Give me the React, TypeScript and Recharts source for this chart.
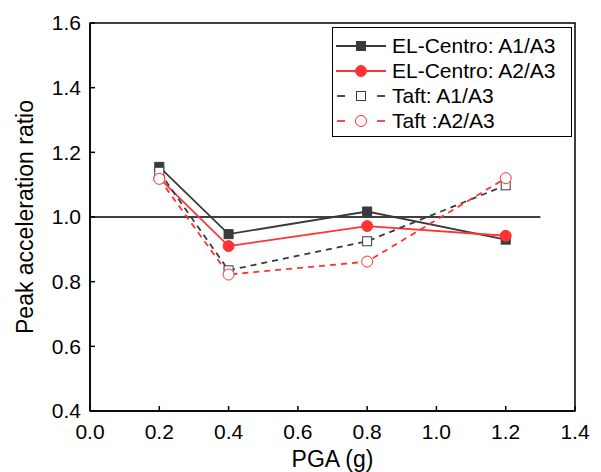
import React from "react";
import {
  LineChart,
  Line,
  XAxis,
  YAxis,
  ReferenceLine,
  ReferenceArea,
} from "recharts";

const pga = [0.2, 0.4, 0.8, 1.2];
const elA1 = [1.155, 0.947, 1.017, 0.93];
const elA2 = [1.12, 0.91, 0.972, 0.942];
const taftA1 = [1.14, 0.835, 0.925, 1.098];
const taftA2 = [1.118, 0.822, 0.862, 1.12];
const xTicks = [0, 0.2, 0.4, 0.6, 0.8, 1.0, 1.2, 1.4];
const yTicks = [0.4, 0.6, 0.8, 1.0, 1.2, 1.4, 1.6];

const DARK = "#3a3a3a";
const RED = "#ff3333";
const FONT = "'Liberation Sans', Arial, sans-serif";

const data = pga.map((x, i) => ({
  x,
  elA1: elA1[i],
  elA2: elA2[i],
  taftA1: taftA1[i],
  taftA2: taftA2[i],
}));

const squareDot = (color: string, filled: boolean) => (p: any) => (
  <rect
    key={`s-${color}-${filled}-${p.index}`}
    x={p.cx - 4.5}
    y={p.cy - 4.5}
    width={9}
    height={9}
    fill={filled ? color : "#fff"}
    stroke={color}
    strokeWidth={1}
  />
);

const circleDot = (color: string, filled: boolean) => (p: any) => (
  <circle
    key={`c-${color}-${filled}-${p.index}`}
    cx={p.cx}
    cy={p.cy}
    r={5.5}
    fill={filled ? color : "#fff"}
    stroke={color}
    strokeWidth={1}
  />
);

const legendItems = [
  { label: "EL-Centro: A1/A3", color: DARK, dashed: false, shape: "square", filled: true },
  { label: "EL-Centro: A2/A3", color: RED, dashed: false, shape: "circle", filled: true },
  { label: "Taft: A1/A3", color: DARK, dashed: true, shape: "square", filled: false },
  { label: "Taft :A2/A3", color: RED, dashed: true, shape: "circle", filled: false },
];

function LegendBox() {
  return (
    <div
      style={{
        position: "absolute",
        left: 332,
        top: 27,
        width: 238,
        height: 103,
        border: "1.5px solid #000",
        background: "#fff",
        padding: "5px 0 0 0",
        boxSizing: "content-box",
        fontFamily: FONT,
        fontSize: 21,
        color: "#000",
      }}
    >
      {legendItems.map((it) => (
        <div key={it.label} style={{ display: "flex", alignItems: "center", height: 25 }}>
          <svg width={54} height={20} style={{ marginLeft: 1, flex: "none" }}>
            {it.dashed ? (
              <>
                <line x1={3} x2={11} y1={10} y2={10} stroke={it.color} strokeWidth={1.8} />
                <line x1={43} x2={51} y1={10} y2={10} stroke={it.color} strokeWidth={1.8} />
              </>
            ) : (
              <line x1={2} x2={52} y1={10} y2={10} stroke={it.color} strokeWidth={1.8} />
            )}
            {it.shape === "square" ? (
              <rect
                x={22.5}
                y={5.5}
                width={9}
                height={9}
                fill={it.filled ? it.color : "#fff"}
                stroke={it.color}
              />
            ) : (
              <circle cx={27} cy={10} r={5.5} fill={it.filled ? it.color : "#fff"} stroke={it.color} />
            )}
          </svg>
          <span style={{ marginLeft: 4, whiteSpace: "nowrap" }}>{it.label}</span>
        </div>
      ))}
    </div>
  );
}

export default function App() {
  return (
    <div style={{ position: "absolute", left: 0, top: 0, width: 601, height: 472, background: "#fff" }}>
      <LineChart
        width={601}
        height={472}
        data={data}
        margin={{ top: 23, right: 26, bottom: 0, left: 40 }}
      >
        <XAxis
          dataKey="x"
          type="number"
          domain={[0, 1.4]}
          ticks={xTicks}
          tickFormatter={(v: number) => v.toFixed(1)}
          tickSize={-5}
          tickMargin={18}
          stroke="#000"
          strokeWidth={1.5}
          tick={{ fill: "#000", fontSize: 21, fontFamily: FONT }}
          height={61}
          label={{
            value: "PGA (g)",
            position: "insideBottom",
            offset: 5,
            fill: "#000",
            fontSize: 23,
            fontFamily: FONT,
          }}
        />
        <YAxis
          type="number"
          domain={[0.4, 1.6]}
          ticks={yTicks}
          tickFormatter={(v: number) => v.toFixed(1)}
          tickSize={-5}
          tickMargin={14}
          stroke="#000"
          strokeWidth={1.5}
          width={50}
          tick={{ fill: "#000", fontSize: 21, fontFamily: FONT }}
          label={{
            value: "Peak acceleration ratio",
            angle: -90,
            position: "insideLeft",
            offset: -15,
            style: { textAnchor: "middle" },
            fill: "#000",
            fontSize: 23,
            fontFamily: FONT,
          }}
        />
        <ReferenceArea
          x1={0}
          x2={1.4}
          y1={0.4}
          y2={1.6}
          fill="none"
          stroke="#000"
          strokeWidth={1.5}
          fillOpacity={0}
        />
        <ReferenceLine
          segment={[
            { x: 0, y: 1.0 },
            { x: 1.3, y: 1.0 },
          ]}
          stroke="#000"
          strokeWidth={1.5}
        />
        <Line
          dataKey="elA1"
          stroke={DARK}
          strokeWidth={1.8}
          dot={squareDot(DARK, true)}
          isAnimationActive={false}
        />
        <Line
          dataKey="elA2"
          stroke={RED}
          strokeWidth={1.8}
          dot={circleDot(RED, true)}
          isAnimationActive={false}
        />
        <Line
          dataKey="taftA1"
          stroke={DARK}
          strokeWidth={1.8}
          strokeDasharray="6 5"
          dot={squareDot(DARK, false)}
          isAnimationActive={false}
        />
        <Line
          dataKey="taftA2"
          stroke={RED}
          strokeWidth={1.8}
          strokeDasharray="6 5"
          dot={circleDot(RED, false)}
          isAnimationActive={false}
        />
      </LineChart>
      <LegendBox />
    </div>
  );
}
